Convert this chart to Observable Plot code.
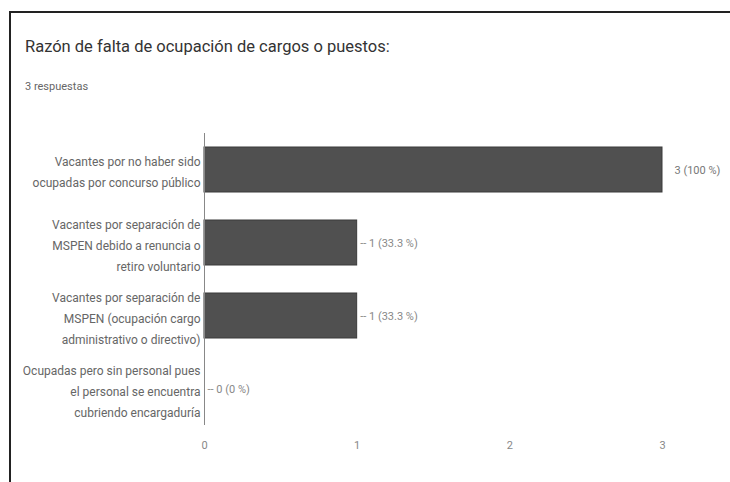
<!DOCTYPE html>
<html>
<head>
<meta charset="utf-8">
<script src="https://cdn.jsdelivr.net/npm/d3@7"></script>
<script src="https://cdn.jsdelivr.net/npm/@observablehq/plot@0.6"></script>
<style>
  html, body { margin: 0; padding: 0; background: #fff; width: 730px; height: 482px; overflow: hidden; }
  #frame { position: absolute; left: 9px; top: 11px; width: 719px; height: 469px;
           border-top: 2px solid #222; border-left: 2px solid #222; }
  #title { position: absolute; left: 25px; top: 37px; font-family: Roboto, sans-serif;
           font-size: 16.5px; color: #333; white-space: nowrap; }
  #subtitle { position: absolute; left: 25px; top: 80px; font-family: Roboto, sans-serif;
              font-size: 11px; color: #666; white-space: nowrap; }
  #chart { position: absolute; left: 0; top: 120px; }
</style>
</head>
<body>
<div id="frame"></div>
<div id="title">Razón de falta de ocupación de cargos o puestos:</div>
<div id="subtitle">3 respuestas</div>
<div id="chart"></div>
<script>
const categories = [
  "Vacantes por no haber sido\nocupadas por concurso público",
  "Vacantes por separación de\nMSPEN debido a renuncia o\nretiro voluntario",
  "Vacantes por separación de\nMSPEN (ocupación cargo\nadministrativo o directivo)",
  "Ocupadas pero sin personal pues\nel personal se encuentra\ncubriendo encargaduría"
];
const counts = [3, 1, 1, 0];
const percents = ["100 %", "33.3 %", "33.3 %", "0 %"];
const xTicks = [0, 1, 2, 3];

const data = categories.map((c, i) => ({
  cat: c, n: counts[i],
  label: counts[i] + " (" + percents[i] + ")"
}));
const maxN = d3.max(counts);
const inside = data.filter(d => d.n === maxN);
const outside = data.filter(d => d.n !== maxN);

const chart = Plot.plot({
  width: 730,
  height: 362,
  marginLeft: 204,
  marginRight: 68,
  marginTop: 13,
  marginBottom: 57,
  style: { fontFamily: "Roboto, sans-serif", background: "transparent" },
  x: { domain: [0, 3], ticks: xTicks, label: null },
  y: { domain: categories, paddingInner: 0.38, paddingOuter: 0.19, label: null },
  marks: [
    Plot.barX(data, { y: "cat", x: "n", fill: "#505050", stroke: "#3a3a3a", strokeWidth: 1 }),
    Plot.ruleX([0], { stroke: "#888", strokeWidth: 1 }),
    Plot.axisX({ ticks: xTicks, tickSize: 0, tickPadding: 16, fontSize: 11, fill: "#888", tickFormat: d => String(d) }),
    Plot.axisY({ tickSize: 0, tickPadding: 4, fontSize: 12, fill: "#666", lineHeight: 1.75, textAnchor: "end" }),
    Plot.text(inside, { y: "cat", x: "n", text: "label", textAnchor: "start", dx: 12, fontSize: 11, fill: "#777" }),
    Plot.text(outside, { y: "cat", x: "n", text: d => "-- " + d.label, textAnchor: "start", dx: 3, fontSize: 11, fill: "#888" })
  ]
});
document.getElementById("chart").appendChild(chart);
</script>
</body>
</html>
